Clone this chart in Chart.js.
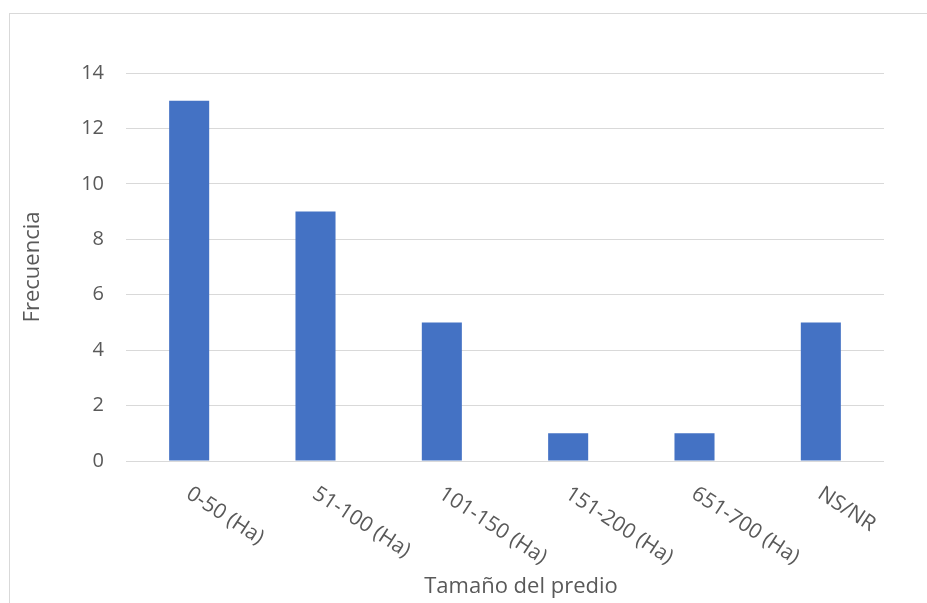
<!DOCTYPE html>
<html>
<head>
<meta charset="utf-8">
<script src="https://cdn.jsdelivr.net/npm/chart.js@4.4.1/dist/chart.umd.min.js"></script>
<style>
  html, body { margin: 0; padding: 0; background: #ffffff; }
  #wrap { position: relative; width: 927px; height: 603px; }
</style>
</head>
<body>
<div id="wrap"><canvas id="c" width="927" height="603"></canvas></div>
<script>
// Frecuencia por tamaño del predio
const categories = ['0-50 (Ha)', '51-100 (Ha)', '101-150 (Ha)', '151-200 (Ha)', '651-700 (Ha)', 'NS/NR'];
const frecuencia = [13, 9, 5, 1, 1, 5];
const yTicks = [0, 2, 4, 6, 8, 10, 12, 14];
const xTitle = 'Tamaño del predio';
const yTitle = 'Frecuencia';

const FONT = '"Open Sans", "DejaVu Sans", sans-serif';
const TEXT = '#595959';
const GRID = '#d9d9d9';
const BAR = '#4472c4';

// Outer chart frame (light border)
const framePlugin = {
  id: 'frame',
  beforeDraw(chart) {
    const ctx = chart.ctx;
    ctx.save();
    ctx.strokeStyle = '#d9d9d9';
    ctx.lineWidth = 1;
    ctx.strokeRect(9.5, 13.5, 1200, 1200);
    ctx.restore();
  }
};

// Slanted category labels and the horizontal axis title
const xLabelsPlugin = {
  id: 'xLabels',
  afterDraw(chart) {
    const ctx = chart.ctx;
    const x = chart.scales.x;
    const area = chart.chartArea;
    ctx.save();
    ctx.fillStyle = TEXT;
    ctx.font = '21px ' + FONT;
    ctx.textAlign = 'left';
    ctx.textBaseline = 'middle';
    categories.forEach((lab, i) => {
      const px = x.getPixelForValue(i);
      ctx.save();
      ctx.translate(px - 1, area.bottom + 31);
      ctx.rotate(33 * Math.PI / 180);
      ctx.fillText(lab, 0, 0);
      ctx.restore();
    });
    ctx.font = '22px ' + FONT;
    ctx.textAlign = 'center';
    ctx.textBaseline = 'middle';
    ctx.fillText(xTitle, (area.left + area.right) / 2 + 16, 587);
    ctx.restore();
  }
};

new Chart(document.getElementById('c'), {
  type: 'bar',
  data: {
    labels: categories,
    datasets: [{
      label: yTitle,
      data: frecuencia,
      backgroundColor: BAR,
      borderWidth: 0,
      categoryPercentage: 1.0,
      barPercentage: 0.317
    }]
  },
  options: {
    responsive: false,
    animation: false,
    devicePixelRatio: 1,
    layout: { padding: { top: 73, right: 43, bottom: 0, left: 0 } },
    plugins: {
      legend: { display: false },
      tooltip: { enabled: false }
    },
    scales: {
      x: {
        type: 'category',
        grid: { display: false },
        border: { display: false },
        ticks: { display: false },
        afterFit(scale) { scale.height = 142; }
      },
      y: {
        min: 0,
        max: 14,
        afterBuildTicks(scale) { scale.ticks = yTicks.map(v => ({ value: v })); },
        grid: { color: GRID, lineWidth: 1, drawTicks: false },
        border: { display: false },
        ticks: {
          color: TEXT,
          font: { family: FONT, size: 20 },
          padding: 22
        },
        title: {
          display: true,
          text: yTitle,
          color: TEXT,
          font: { family: FONT, size: 22 },
          padding: { top: 20, bottom: 0 }
        },
        afterFit(scale) { scale.width = 126; }
      }
    }
  },
  plugins: [framePlugin, xLabelsPlugin]
});
</script>
</body>
</html>
